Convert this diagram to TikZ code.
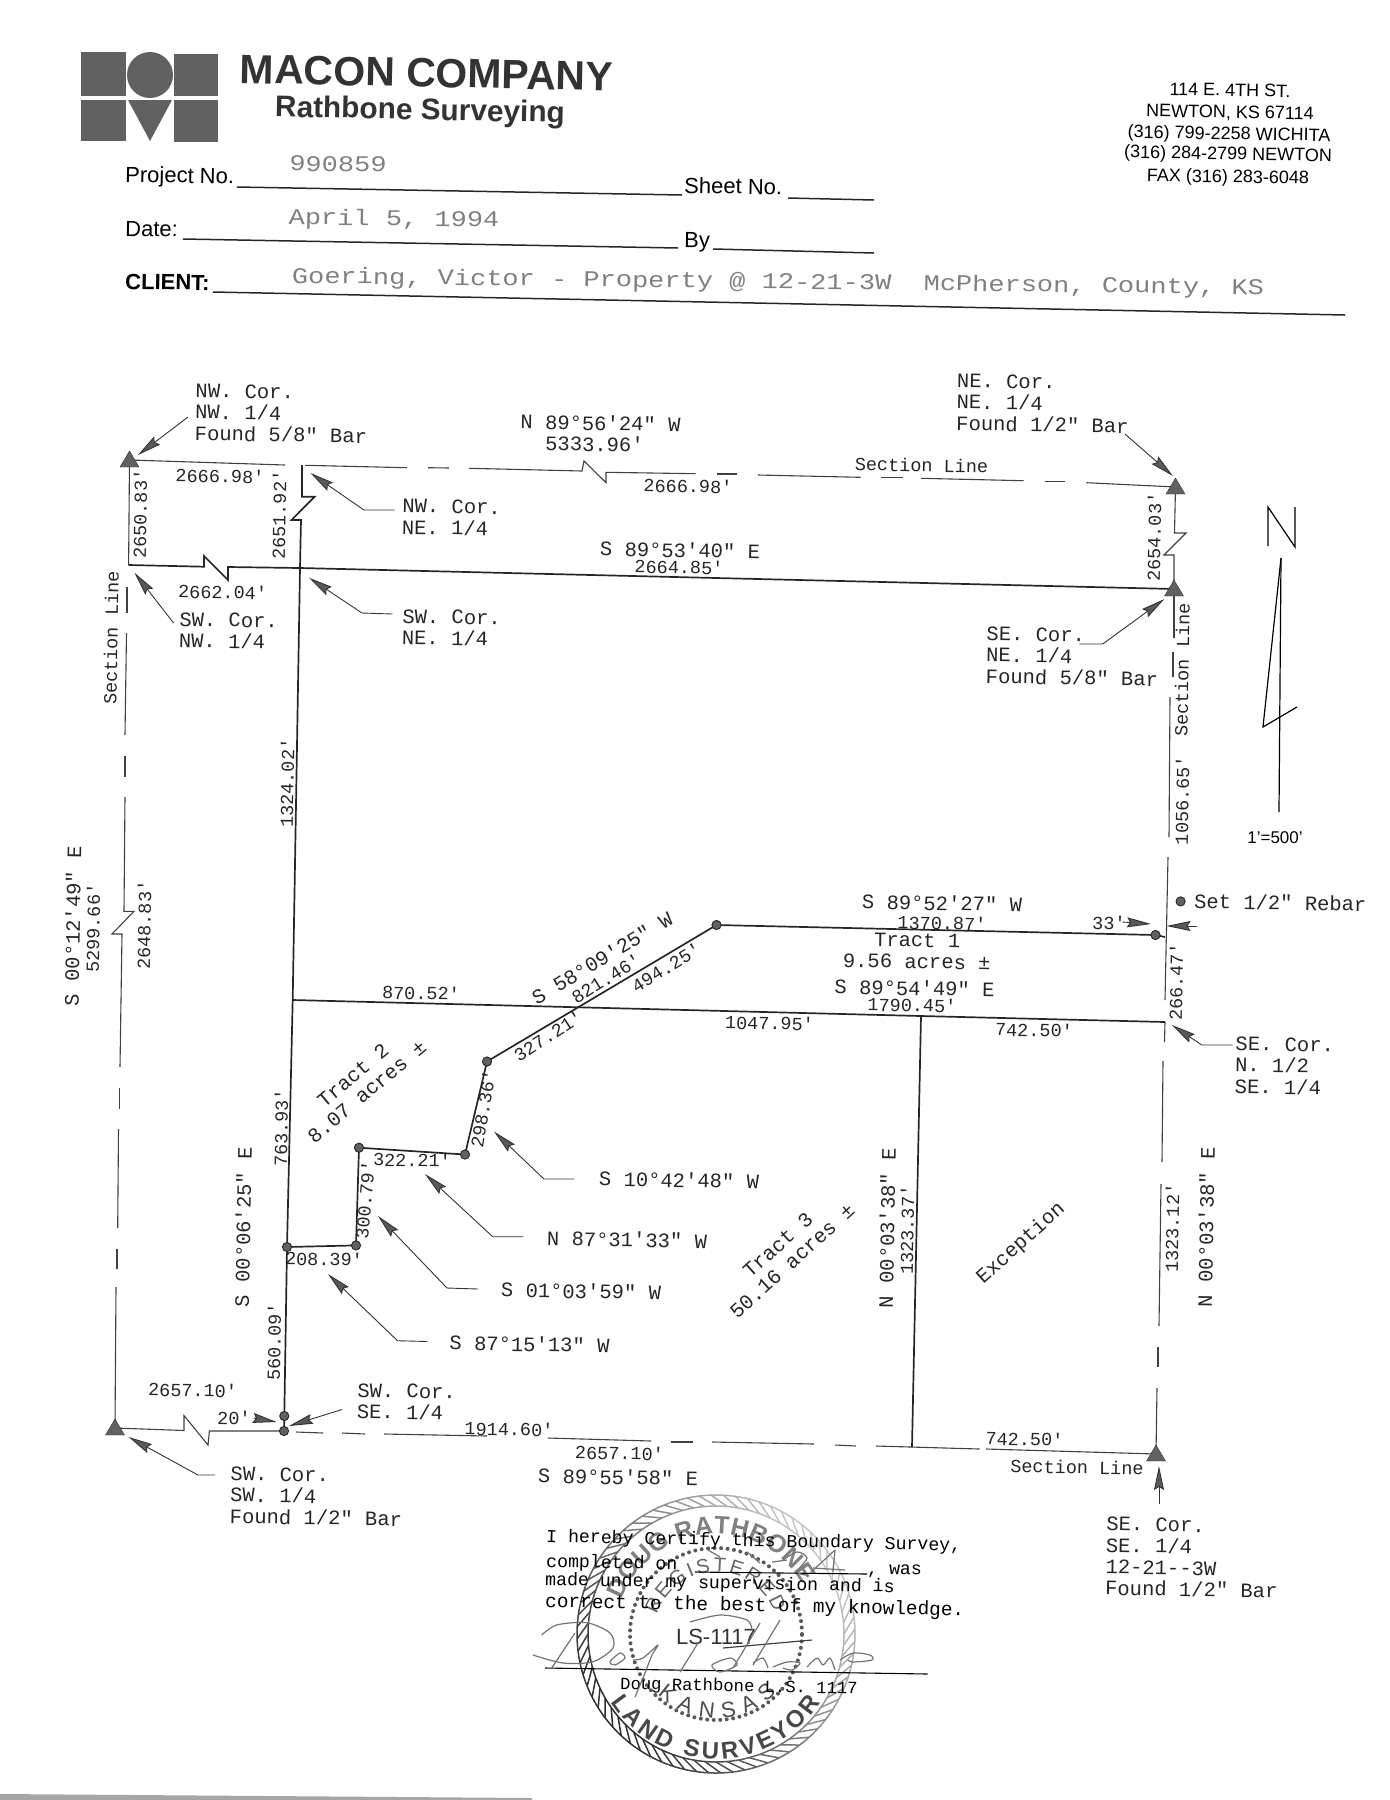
\documentclass[tikz,border=0pt]{standalone}
\usepackage{fontspec}
\usetikzlibrary{arrows.meta,decorations.text}
\setmainfont{Liberation Sans}
\newfontfamily\plotfam{Liberation Mono}
\newcommand{\cadfont}{\plotfam\fontsize{20.5}{21.5}\selectfont}
\newcommand{\numfont}{\plotfam\fontsize{18.5}{20}\selectfont}
\newcommand{\certfont}{\plotfam\fontsize{18.2}{20}\selectfont}
\newcommand{\typefont}{\plotfam\fontsize{22.5}{24}\selectfont}
\newcommand{\formfont}{\fontsize{22}{24}\selectfont}
\newcommand{\addrfont}{\fontsize{18}{20}\selectfont}
\begin{document}
\begin{tikzpicture}[x=1pt,y=-1pt]
                \tikzstyle{cad}=[inner sep=0pt, rotate=-1, text=black!85, font=\cadfont, align=left]
                \tikzstyle{num}=[inner sep=0pt, rotate=-1, text=black!85, font=\numfont]
                \tikzstyle{form}=[inner sep=0pt, rotate=-1, anchor=base west, font=\formfont]
                \tikzstyle{addr}=[inner sep=0pt, rotate=-1, font=\addrfont]
                \tikzstyle{typed}=[inner sep=0pt, font=\typefont, text=black!50, xscale=1.2]
                \tikzstyle{cert}=[inner sep=0pt, rotate=-1.2, anchor=base west, font=\certfont]
                \tikzstyle{plotline}=[line width=1.7pt, black!85]
                \tikzstyle{secline}=[line width=1.1pt, black!75]
                \tikzstyle{formline}=[line width=1.5pt, black!85]
                \tikzstyle{leader}=[line width=0.9pt, black!80, -{Stealth[length=24pt, width=10pt, inset=3pt, fill=black!65]}]
                \tikzstyle{logo}=[fill=black!62]
                \tikzstyle{pen}=[line width=1.2pt, black!55, line join=round]
                \tikzstyle{seal}=[black!65]

                \useasboundingbox (0,0) rectangle (1390,1800);
                \fill[black!35] (0,1794) -- (532,1798) -- (532,1800) -- (0,1800) -- cycle;

                \fill[logo] (81,52) rectangle (126,96);
                \fill[logo] (150,75) circle (23);
                \fill[logo] (174,54) rectangle (218,96);
                \fill[logo] (81,100) rectangle (126,141);
                \fill[logo] (128,100) -- (172,100) -- (150,141) -- cycle;
                \fill[logo] (174,100) rectangle (218,142);
                \node[inner sep=0pt, rotate=-1.2, font=\fontsize{41}{43}\bfseries\selectfont, text=black!80] (macon) at (426.5,73) {MACON COMPANY};
                \node[inner sep=0pt, rotate=-1.2, font=\fontsize{29.8}{32}\bfseries\selectfont, text=black!80] (rathbone) at (420,112) {Rathbone Surveying};

                \node[addr] (addra) at (1230,90) {114 E. 4TH ST.};
                \node[addr] (addrb) at (1230,113) {NEWTON, KS 67114};
                \node[addr] (addrc) at (1229,135) {(316) 799-2258 WICHITA};
                \node[addr] (addrd) at (1228,155) {(316) 284-2799 NEWTON};
                \node[addr] (addre) at (1228,178) {FAX (316) 283-6048};

                \node[form] (project) at (125,182) {Project No.};
                \node[form] (sheet) at (684,193) {Sheet No.};
                \node[form] (date) at (125,236) {Date:};
                \node[form] (by) at (684,247) {By};
                \node[form, font=\formfont\bfseries] (client) at (125,289) {CLIENT:};
                \draw[formline] (237,187) -- (682,195);
                \draw[formline] (788,198) -- (874,200);
                \draw[formline] (183,239) -- (678,248);
                \draw[formline] (713,249) -- (874,253);
                \draw[formline] (213,292) -- (1345,315);
                \node[typed, rotate=-0.8] (projno) at (338,164) {990859};
                \node[typed, rotate=-0.8] (datetxt) at (394,220) {April 5, 1994};
                \node[typed, rotate=-0.8] (clienttxt) at (778,283) {Goering, Victor - Property @ 12-21-3W~~McPherson, County, KS};

                \foreach \n/\x/\y in {nw/129.5/460, ne/1175.5/487, sene/1174/589, sw/115/1428, se/1156/1454,
                    nwtop/302/465, mida/128.6/565, midb/300/568, swq/292.7/1000, ptc/921/1016, ptd/912/1447,
                    pta/287/1247, ptb/356/1245.4, pte/359/1147.7, ptf/465/1154.5, ptg/487/1061.5, pth/716.5/925,
                    pti/1155.5/935, ptj/1165/937, ptk/284.3/1416, ptl/284/1431, ptm/1165/1022, rebar/1180.6/901.4}
                    \coordinate (\n) at (\x,\y);

                \draw[secline] (nw) -- (285,465);
                \draw[secline] (305,465.3) -- (407,467.7);
                \draw[secline] (428,467.7) -- (449,468);
                \draw[secline] (469,468.3) -- (582,471) -- (584,461) -- (606,482.7) -- (606,472.3) -- (695.5,473.7);
                \draw[secline] (717,474) -- (737.4,474);
                \draw[secline] (758,475) -- (860.6,477.3);
                \draw[secline] (881,477.7) -- (902.5,477.7);
                \draw[secline] (921,478.3) -- (1023.5,480.7);
                \draw[secline] (1044.6,481.7) -- (1065,481.7);
                \draw[secline] (1086.4,482.7) -- (ne);

                \draw[secline] (nw) -- (mida);
                \draw[secline] (127,587) -- (127,613);
                \draw[secline] (126.5,633) -- (125,735);
                \draw[secline] (125,756) -- (125,777);
                \draw[secline] (125,797) -- (124,911.3) -- (134,911.3) -- (112,934) -- (122,934) -- (120,1067);
                \draw[secline] (119.5,1088) -- (119.5,1109);
                \draw[secline] (118.5,1129) -- (117.7,1228);
                \draw[secline] (117,1249) -- (117,1269);
                \draw[secline] (116,1287) -- (sw);

                \draw[secline] (ne) -- (1174.5,533) -- (1186,533) -- (1164,555) -- (1174,555) -- (sene);
                \draw[secline] (1174,595) -- (1174,638);
                \draw[secline] (1173,652) -- (1173,677);
                \draw[secline] (1170,697) -- (1169,837);
                \draw[secline] (1168,857) -- (1165,1000);
                \draw[secline] (1165,1022) -- (1164.5,1042);
                \draw[secline] (1163,1061) -- (1162,1162);
                \draw[secline] (1161,1184) -- (1159,1326);
                \draw[secline] (1158,1347) -- (1158,1367);
                \draw[secline] (1157,1388) -- (se);

                \draw[secline] (sw) -- (184,1430.5) -- (184,1415.5) -- (208,1445) -- (209.4,1431) -- (ptl);
                \draw[secline] (296,1432) -- (323,1433);
                \draw[secline] (342,1433) -- (365,1434);
                \draw[secline] (384,1434) -- (487,1436);
                \draw[secline] (548,1438) -- (651,1441);
                \draw[secline] (671,1442) -- (693,1442);
                \draw[secline] (712,1442) -- (814,1444);
                \draw[secline] (835,1445) -- (856,1446);
                \draw[secline] (876,1446) -- (979.5,1449);
                \draw[secline] (986,1449) -- (se);

                \draw[plotline] (mida) -- (204,566.7) -- (204,556) -- (228,580) -- (228,567) -- (midb) -- (sene);
                \draw[plotline] (nwtop) -- (302,496.7) -- (314.6,496.7) -- (291.5,520) -- (301,520) -- (midb) -- (swq) -- (pta) -- (ptk) -- (ptl);
                \draw[plotline] (swq) -- (ptc) -- (ptm);
                \draw[plotline] (ptc) -- (ptd);
                \draw[plotline] (pta) -- (ptb) -- (pte) -- (ptf) -- (ptg) -- (pth) -- (pti) -- (ptj);

                \foreach \t in {nw,ne,sene,sw,se}
                    \filldraw[black!62, draw=black!80, shift={(\t)}] (-9.5,7) -- (0,-9) -- (9.5,7) -- cycle;
                \foreach \p in {pta,ptb,pte,ptf,ptg,pth,pti,ptk,ptl,rebar}
                    \filldraw[black!62, draw=black!85, line width=0.9pt] (\p) circle (4.6);

                \foreach \n/\x/\y in {la/188/417, lb/138/455, lc/394.6/510, ld/364/510, le/310.4/473,
                    lf/173.6/623, lg/134.5/572.7, lh/392.5/614, li/362/613, lj/309/577.7,
                    lk/1125/434, ll/1173/476, lm/1079.4/644, ln/1102.7/644, lo/1164.4/599,
                    lp/574/1179, lq/544/1179, lr/494/1131.5, ls/523/1236.7, lt/492.7/1236.7, lu/425/1174,
                    lv/478/1289, lw/447/1288, lx/378/1216, ly/427.4/1341.5, lz/397.5/1340.7, maa/328/1274,
                    mab/342/1409.5, mac/289/1426, mad/253.6/1418, mae/276.7/1422,
                    maf/215/1475, mag/198/1475, mah/128.6/1437, mai/1122.5/922, maj/1151/924,
                    mak/1197/926, mal/1166.5/926, mam/1232.6/1045, man/1201.8/1045, mao/1172/1025,
                    map/1159/1504, maq/1159/1466}
                    \coordinate (\n) at (\x,\y);
                \draw[leader] (la) -- (lb);
                \draw[leader] (lc) -- (ld) -- (le);
                \draw[leader] (lf) -- (lg);
                \draw[leader] (lh) -- (li) -- (lj);
                \draw[leader] (lk) -- (ll);
                \draw[leader] (lm) -- (ln) -- (lo);
                \draw[leader] (lp) -- (lq) -- (lr);
                \draw[leader] (ls) -- (lt) -- (lu);
                \draw[leader] (lv) -- (lw) -- (lx);
                \draw[leader] (ly) -- (lz) -- (maa);
                \draw[leader] (mab) -- (mac);
                \draw[leader] (mad) -- (mae);
                \draw[leader] (maf) -- (mag) -- (mah);
                \draw[leader] (mai) -- (maj);
                \draw[leader] (mak) -- (mal);
                \draw[leader] (mam) -- (man) -- (mao);
                \draw[leader] (map) -- (maq);

                \node[cad, anchor=west] (nwnw) at (195,412) {NW. Cor.\\NW. 1/4\\Found 5/8" Bar};
                \node[cad] (brgn) at (600.5,423) {N 89°56'24" W};
                \node[cad] (lenn) at (594.5,444) {5333.96'};
                \node[num] (tla) at (220,476) {2666.98'};
                \node[num] (tlb) at (688,486) {2666.98'};
                \node[cad, font=\numfont] (secn) at (921.5,465) {Section Line};
                \node[num, rotate=90] (wla) at (140,514) {2650.83'};
                \node[num, rotate=90] (mla) at (279,515) {2651.92'};
                \node[num] (mlb) at (222.6,592) {2662.04'};
                \node[cad] (brgm) at (680,550) {S 89°53'40" E};
                \node[num] (lenm) at (679,567) {2664.85'};
                \node[cad, anchor=west] (nwne) at (402,516.5) {NW. Cor.\\NE. 1/4};
                \node[cad, anchor=west] (swnw) at (179,630) {SW. Cor.\\NW. 1/4};
                \node[cad, anchor=west] (swne) at (402,627) {SW. Cor.\\NE. 1/4};
                \node[cad, anchor=west] (nene) at (956.5,402) {NE. Cor.\\NE. 1/4\\Found 1/2" Bar};
                \node[num, rotate=90] (ela) at (1154,537) {2654.03'};
                \node[cad, anchor=west] (sene2) at (986,655) {SE. Cor.\\NE. 1/4\\Found 5/8" Bar};
                \node[cad, rotate=90, font=\numfont] (sece) at (1182,670) {Section Line};
                \node[num, rotate=90] (elb) at (1182,800.5) {1056.65'};
                \node[num, rotate=90] (mlc) at (287,783) {1324.02'};
                \node[cad, rotate=90, font=\numfont] (secw) at (111,638) {Section Line};
                \node[cad, rotate=90] (brgw) at (72.6,926) {S 00°12'49" E};
                \node[num, rotate=90] (lenw) at (93,928) {5299.66'};
                \node[num, rotate=90] (wlb) at (144,925) {2648.83'};

                \node[num] (lmid) at (421,993) {870.52'};
                \node[cad, rotate=32] (brgt) at (602,958) {S 58°09'25" W};
                \node[num, rotate=33] (lent) at (606,978.5) {821.46'};
                \node[num, rotate=33] (lenu) at (666,967.5) {494.25'};
                \node[num, rotate=34] (lenv) at (548,1036) {327.21'};
                \node[cad, rotate=41, align=center] (tractb) at (360,1083.5) {Tract 2\\8.07 acres ±};
                \node[num, rotate=90] (lenx) at (281,1128) {763.93'};
                \node[cad, rotate=90] (brgs) at (243,1227) {S 00°06'25" E};
                \node[num] (leny) at (412,1160) {322.21'};
                \node[num, rotate=81] (lenz) at (483,1109) {298.36'};
                \node[num, rotate=86] (lenaa) at (365,1200) {300.79'};
                \node[num] (lenab) at (324,1259) {208.39'};
                \node[cad] (brga) at (679,1180) {S 10°42'48" W};
                \node[cad] (brgb) at (627,1239.5) {N 87°31'33" W};
                \node[cad] (brgc) at (581,1291) {S 01°03'59" W};
                \node[cad] (brgd) at (529.5,1344) {S 87°15'13" W};
                \node[num, rotate=90] (lenac) at (274,1342) {560.09'};
                \node[num] (lenad) at (192.6,1390) {2657.10'};
                \node[num] (lenae) at (234,1418) {20'};
                \node[cad, anchor=west] (swse) at (357,1401) {SW. Cor.\\SE. 1/4};
                \node[num] (lenaf) at (509,1429) {1914.60'};
                \node[num] (lenag) at (619.5,1453) {2657.10'};
                \node[cad] (brge) at (618,1477) {S 89°55'58" E};
                \node[cad, anchor=west] (swsw) at (230,1495) {SW. Cor.\\SW. 1/4\\Found 1/2" Bar};

                \node[cad] (brgf) at (942,903) {S 89°52'27" W};
                \node[num] (lenah) at (942,923) {1370.87'};
                \node[cad, align=center] (tracta) at (917,951) {Tract 1\\9.56 acres ±};
                \node[cad] (brgg) at (914.5,988) {S 89°54'49" E};
                \node[num] (lenai) at (912,1005) {1790.45'};
                \node[num] (lenaj) at (769.5,1023) {1047.95'};
                \node[num] (lenak) at (1034,1030) {742.50'};
                \node[num] (lenal) at (1109,923) {33'};
                \node[cad, anchor=west] (rebartxt) at (1194,901) {Set 1/2" Rebar};
                \node[num, rotate=90] (lenam) at (1176,982) {266.47'};
                \node[cad, anchor=west] (senh) at (1235,1065) {SE. Cor.\\N. 1/2\\SE. 1/4};
                \node[cad, rotate=90] (brgh) at (887,1228) {N 00°03'38" E};
                \node[num, rotate=90] (lenan) at (907,1230) {1323.37'};
                \node[num, rotate=90] (lenao) at (1172,1228) {1323.12'};
                \node[cad, rotate=90] (brgi) at (1206,1227) {N 00°03'38" E};
                \node[cad, rotate=43, align=center] (tractc) at (785,1253) {Tract 3\\50.16 acres ±};
                \node[cad, rotate=43] (excep) at (1021,1243.5) {Exception};
                \node[num] (lenap) at (1024.5,1439) {742.50'};
                \node[cad, font=\numfont] (secs) at (1077,1467) {Section Line};
                \node[cad, anchor=west] (sesw) at (1105.6,1556) {SE. Cor.\\SE. 1/4\\12-21--3W\\Found 1/2" Bar};

                \coordinate (narrowtop) at (1281,558);
                \coordinate (narrowbot) at (1279,812);
                \draw[line width=1.2pt] (1268,546) -- (1268,507) -- (1295,547) -- (1295,507);
                \draw[line width=1.2pt] (narrowtop) -- (narrowbot);
                \draw[line width=1.2pt] (narrowtop) -- (1263,727) -- (1297,707);
                \node[inner sep=0pt, font=\fontsize{17}{19}\selectfont] (scale) at (1275,838) {1'=500'};

                \begin{scope}[shift={(716,1634)}, y=1pt]
                    \foreach \a in {0,5,...,355} {
                        \pgfmathsetmacro{\shade}{int(52+30*cos(\a-215))}
                        \draw[black!\shade, line width=1.5pt] (\a:128) -- ({\a+7}:139);
                        \draw[black!\shade, line width=1.5pt] (\a:128) arc[start angle=\a, end angle={\a+5}, radius=128];
                        \draw[black!\shade, line width=1.5pt] (\a:139) arc[start angle=\a, end angle={\a+5}, radius=139];
                    }
                    \draw[seal, line width=4pt, line cap=round, dash pattern=on 0pt off 6.5pt] (0,0) circle (86);
                    \path[decorate, decoration={text along path, text align={fit to path},
                        text={|\fontsize{25}{27}\bfseries\selectfont\color{black!50}|DOUG RATHBONE}}]
                        (160:100) arc[start angle=160, end angle=30, radius=100];
                    \path[decorate, decoration={text along path, text align={fit to path},
                        text={|\fontsize{24}{26}\bfseries\selectfont\color{black!72}|LAND SURVEYOR}}]
                        (213:125) arc[start angle=213, end angle=327, radius=125];
                    \path[decorate, decoration={text along path, text align={fit to path},
                        text={|\fontsize{20}{22}\selectfont\color{black!60}|REGISTERED}}]
                        (162:62) arc[start angle=162, end angle=20, radius=62];
                    \path[decorate, decoration={text along path, text align={fit to path},
                        text={|\fontsize{22}{24}\selectfont\color{black!70}|KANSAS}}]
                        (226:84) arc[start angle=226, end angle=316, radius=84];
                    \node[inner sep=0pt, font=\fontsize{22}{24}\selectfont, text=black!80] (lsno) at (0,-3) {LS-1117};
                \end{scope}

                \node[cert] (certa) at (546,1542) {I hereby Certify this Boundary Survey,};
                \node[cert] (certb) at (546,1567) {completed on};
                \node[cert] (certc) at (867,1574) {, was};
                \node[cert] (certd) at (545,1585) {made under my supervision and is};
                \node[cert, font=\plotfam\fontsize{19.4}{21}\selectfont] (certe) at (545,1607) {correct to the best of my knowledge.};
                \draw[line width=1.1pt] (695,1572) -- (867,1574);
                \draw[line width=1.1pt] (545,1668) -- (927.5,1674);
                \node[cert, font=\plotfam\fontsize{17.2}{19}\selectfont] (certf) at (620,1689) {Doug Rathbone L.S. 1117};

                \draw[pen] plot[smooth] coordinates {(541.7,1635) (556.7,1625) (586.7,1622.7) (610,1633) (613,1648) (593,1661.7) (563,1663) (533,1655)};
                \draw[pen] (575,1633) -- (551.7,1668);
                \draw[pen] plot[smooth cycle] coordinates {(610,1661.7) (620,1653) (625,1658) (615,1665)};
                \draw[pen] plot[smooth] coordinates {(633,1660) (643,1658) (658,1645) (652,1655) (645,1673) (635,1697)};
                \draw[pen] (698,1643) -- (680,1672);
                \draw[pen] plot[smooth] coordinates {(690,1622) (720,1615) (747,1620) (752,1630)};
                \draw[pen] plot[smooth cycle] coordinates {(712,1665) (730,1658) (737,1665) (720,1672)};
                \draw[pen, black!75] (723,1648) -- (812,1640);
                \draw[pen] (760,1623) -- (733,1668);
                \draw[pen] plot[smooth] coordinates {(753,1663) (763,1658) (768,1668)};
                \draw[pen] (780,1620) -- (753,1665);
                \draw[pen] plot[smooth] coordinates {(773,1667) (787,1662) (800,1663) (792,1670) (783,1668)};
                \draw[pen] plot[smooth] coordinates {(807,1667) (817,1658) (823,1665) (830,1658) (835,1670)};
                \draw[pen] plot[smooth] coordinates {(840,1660) (853,1653) (870,1655) (872,1660) (853,1662) (848,1660)};
                \draw[pen] (708,1550) -- (720,1557);
                \draw[pen] (747,1552) -- (760,1563);
                \draw[pen] (772,1562) -- (787,1560);
                \draw[pen] plot[smooth] coordinates {(783,1560) (797,1552) (807,1558) (797,1572) (807,1575)};
                \draw[pen] (810,1573) -- (835,1550) -- (833,1572);
                \draw[pen] (813,1568) -- (845,1570);
\end{tikzpicture}
\end{document}
